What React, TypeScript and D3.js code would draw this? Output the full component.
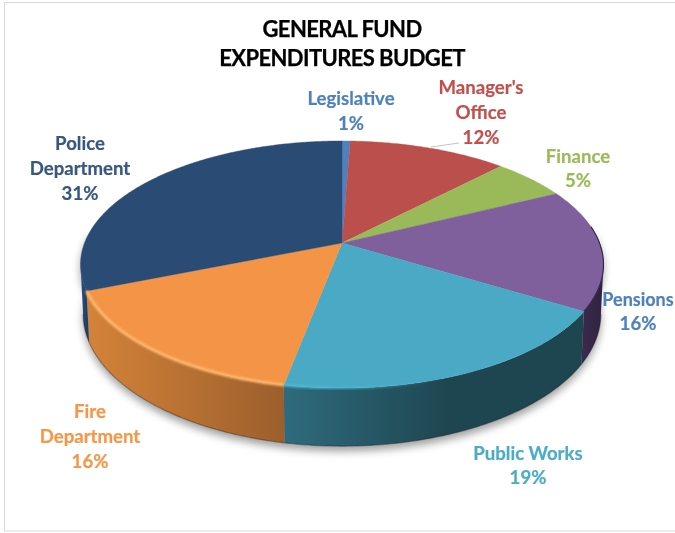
import React from "react";
import * as d3 from "d3";

const categories = ["Legislative", "Manager's Office", "Finance", "Pensions", "Public Works", "Fire Department", "Police Department"];
const shares = [0.6, 11.6, 5.5, 16, 19.3, 15.9, 31.1];
const percentLabels = ["1%", "12%", "5%", "16%", "19%", "16%", "31%"];
const titleLines = ["GENERAL FUND", "EXPENDITURES BUDGET"];

const topColors = ["#4f81bd", "#bb4f4c", "#9aba59", "#7f609c", "#4aa9c4", "#f39446", "#2a4b73"];
const labelColors = ["#4f81bd", "#c0504d", "#9bbb59", "#4f81bd", "#4bacc6", "#f79646", "#37577f"];
const sideStops: string[][] = [
  ["#444", "#444"], ["#444", "#444"], ["#444", "#444"],
  ["#3a2a4c", "#2f2340"],
  ["#2f6b7d", "#1e4650"],
  ["#d48339", "#9c5f2c"],
  ["#29507f", "#213f66"],
];
const labelLayout = [
  { x: 351, y: [98, 123], lines: ["Legislative"] },
  { x: 481, y: [87, 112, 137], lines: ["Manager's", "Office"] },
  { x: 578, y: [156, 180], lines: ["Finance"] },
  { x: 638, y: [300, 323], lines: ["Pensions"] },
  { x: 528, y: [453, 477], lines: ["Public Works"] },
  { x: 90, y: [411, 436, 461], lines: ["Fire", "Department"] },
  { x: 80, y: [143, 168, 193], lines: ["Police", "Department"] },
];

const W = 675, H = 533;
const cx = 342, cy = 243, R = 257.5, Rk = 119.8, P = 0.174, DEPTH = 48;
const FRONT_START = (Math.PI * 100) / 180, FRONT_END = (Math.PI * 260) / 180;

const project = (t: number): [number, number] => {
  const w = 1 + P * Math.cos(t);
  return [cx + (R * Math.sin(t)) / w, cy - (Rk * Math.cos(t)) / w];
};
const lower = (t: number): [number, number] => {
  const [x, y] = project(t);
  const w = 1 + P * Math.cos(t);
  return [cx + (x - cx) * 0.99, y + DEPTH / w];
};
const sample = (a: number, b: number) => {
  const n = Math.max(2, Math.ceil(Math.abs(b - a) / 0.01));
  return d3.range(n + 1).map((i) => a + ((b - a) * i) / n);
};
const line = d3.line<[number, number]>().x((d) => d[0]).y((d) => d[1]);

const arcs = d3.pie<number>().sort(null).value((d) => d).startAngle(0).endAngle(2 * Math.PI)(shares);
const topPath = (a: number, b: number) => line([[cx, cy], ...sample(a, b).map(project)])! + "Z";
const sidePath = (a: number, b: number) => {
  const ts = sample(a, b);
  return line([...ts.map(project), ...ts.slice().reverse().map(lower)])! + "Z";
};
const clipFront = (a: number, b: number): [number, number] | null => {
  const s = Math.max(a, FRONT_START), e = Math.min(b, FRONT_END);
  return e > s ? [s, e] : null;
};

export default function App() {
  const font = "Lato, Carlito, sans-serif";
  return (
    <svg width={W} height={H} viewBox={`0 0 ${W} ${H}`} style={{ position: "absolute", left: 0, top: 0, display: "block" }}>
      <defs>
        <filter id="shadow" x="-20%" y="-20%" width="140%" height="140%"><feGaussianBlur stdDeviation="4" /></filter>
        <filter id="soft" x="-5%" y="-5%" width="110%" height="110%"><feGaussianBlur stdDeviation="0.8" /></filter>
        <filter id="txt" x="-5%" y="-20%" width="110%" height="140%"><feGaussianBlur stdDeviation="0.35" /></filter>
        {arcs.map((a, i) => {
          const r = clipFront(a.startAngle, a.endAngle);
          if (!r) return null;
          const xs = sample(r[0], r[1]).map((t) => project(t)[0]);
          const x1 = d3.min(xs)!, x2 = d3.max(xs)!;
          return (
            <linearGradient key={i} id={`side${i}`} gradientUnits="userSpaceOnUse" x1={x1} x2={x1 + (i === 4 ? (x2 - x1) * 0.55 : x2 - x1)} y1={0} y2={0}>
              <stop offset="0" stopColor={sideStops[i][0]} />
              <stop offset="1" stopColor={sideStops[i][1]} />
            </linearGradient>
          );
        })}
        <linearGradient id="pwHi" gradientUnits="userSpaceOnUse" x1={284} x2={440} y1={0} y2={0}>
          <stop offset="0" stopColor="#4cbcdb" stopOpacity={1} />
          <stop offset="1" stopColor="#4cbcdb" stopOpacity={0} />
        </linearGradient>
      </defs>

      <rect x={4.5} y={2.5} width={W} height={528.5} fill="#fff" stroke="#d9d9d9" strokeWidth={1} />

      <path
        d={line([...sample(FRONT_START - 0.3, FRONT_END + 0.3).map(project), ...sample(FRONT_START - 0.3, FRONT_END + 0.3).reverse().map(lower)])! + "Z"}
        fill="#000" opacity={0.38} filter="url(#shadow)" transform="translate(0,5)"
      />

      {arcs.map((a, i) => {
        const r = clipFront(a.startAngle, a.endAngle);
        return r ? <path key={i} d={sidePath(r[0], r[1])} fill={`url(#side${i})`} /> : null;
      })}
      <path d={line(sample(FRONT_START, FRONT_END).map(lower))!} fill="none" stroke="#1a1a1a" strokeOpacity={0.35} strokeWidth={1.2} />

      {arcs.map((a, i) => (
        <path key={i} d={topPath(a.startAngle, a.endAngle)} fill={topColors[i]} stroke={topColors[i]} strokeWidth={0.4} />
      ))}
      <path d={line(sample((Math.PI * 82) / 180, arcs[3].endAngle).map(project))!} fill="none" stroke="#2f2340" strokeWidth={1.1} />
      <path d={line(sample(arcs[5].startAngle, arcs[5].endAngle).map(project))!} fill="none" stroke="#ffb86f" strokeWidth={3} filter="url(#soft)" />
      <path d={line(sample(arcs[4].startAngle + 0.45, arcs[4].endAngle).map(project))!} fill="none" stroke="url(#pwHi)" strokeWidth={2.6} filter="url(#soft)" />

      <path d="M431,147L459,143" fill="none" stroke="#c4c4c4" strokeWidth={1.1} />

      <g fontFamily={font} fontWeight={700} textAnchor="middle">
        {titleLines.map((t, i) => (
          <text key={t} x={342} y={[37, 66][i]} fontSize={22} letterSpacing={-0.6} stroke="#000" strokeWidth={0.25} fill="#000" filter="url(#txt)">{t}</text>
        ))}
        {categories.map((c, i) => {
          const l = labelLayout[i];
          const rows = [...l.lines, percentLabels[i]];
          return rows.map((t, j) => (
            <text key={c + j} x={l.x} y={l.y[j]} dy="0.35em" fontSize={i === 3 && j === 0 ? 18 : 18.6} stroke={labelColors[i]} strokeWidth={0.2} fill={labelColors[i]} filter="url(#txt)">{t}</text>
          ));
        })}
      </g>
    </svg>
  );
}
